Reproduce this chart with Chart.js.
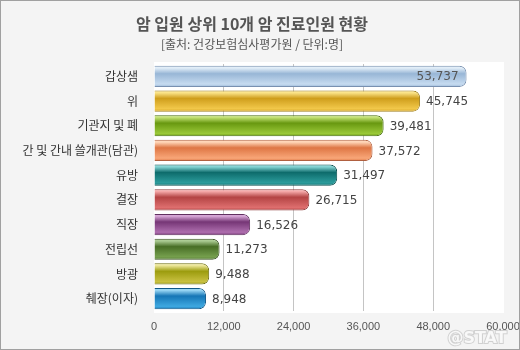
<!DOCTYPE html>
<html>
<head>
<meta charset="utf-8">
<script src="https://cdn.jsdelivr.net/npm/chart.js"></script>
<style>
  body { margin: 0; background: #fff; }
  #wrap { width: 518px; height: 348px; border: 1px solid #a0a0a0; background: #f4f4f4; }
</style>
</head>
<body>
<div id="wrap"><canvas id="cancerChart" width="518" height="348"></canvas></div>
<script>
// chart data
const categories = ['갑상샘', '위', '기관지 및 폐', '간 및 간내 쓸개관(담관)', '유방', '결장', '직장', '전립선', '방광', '췌장(이자)'];
const patients = [53737, 45745, 39481, 37572, 31497, 26715, 16526, 11273, 9488, 8948];
const axisMax = 60000;
const axisStep = 12000;

// glossy bar colours: highlight, dark band, lower body, outline
const barLight = ['#e2eef8', '#fbe48a', '#c4e276', '#ffd6b8', '#86d4d4', '#f4a8a8', '#d6a6d6', '#accc94', '#ece698', '#98d6f4'];
const barDark = ['#98b6d6', '#cf9e1c', '#689810', '#de7644', '#0e6c6c', '#b44444', '#763676', '#486e26', '#9c9c0e', '#1676b6'];
const barBody = ['#c6dbf0', '#f2c84a', '#9ac838', '#f8a678', '#2c9c9c', '#de6e6e', '#ae6eae', '#76a04e', '#c8c040', '#3ea8e0'];
const barEdge = ['#7890b0', '#a08020', '#4a7010', '#b06040', '#0a5050', '#904040', '#603060', '#385020', '#707010', '#105888'];

const fontKr = '"Noto Sans CJK KR", "Noto Sans", sans-serif';

function barGradient(c) {
    const chart = c.chart;
    const i = c.dataIndex;
    const yScale = chart.scales.y;
    if (!chart.chartArea || !yScale || i === undefined) return barBody[i] || '#ccc';
    const cy = yScale.getPixelForValue(i);
    const h = 11;
    const g = chart.ctx.createLinearGradient(0, cy - h, 0, cy + h);
    g.addColorStop(0, barLight[i]);
    g.addColorStop(0.12, barLight[i]);
    g.addColorStop(0.38, barDark[i]);
    g.addColorStop(0.85, barBody[i]);
    g.addColorStop(1, barDark[i]);
    return g;
}

// white plot background
const plotBackground = {
    id: 'plotBackground',
    beforeDraw(chart) {
        const { ctx, chartArea } = chart;
        ctx.save();
        ctx.fillStyle = '#ffffff';
        ctx.fillRect(chartArea.left, chartArea.top - 2, chartArea.right - chartArea.left + 1, chartArea.bottom - chartArea.top + 4);
        ctx.restore();
    }
};

// value labels at the end of each bar
const valueLabels = {
    id: 'valueLabels',
    afterDatasetsDraw(chart) {
        const ctx = chart.ctx;
        const meta = chart.getDatasetMeta(0);
        ctx.save();
        ctx.font = '12px "DejaVu Sans", sans-serif';
        ctx.textBaseline = 'middle';
        meta.data.forEach((bar, i) => {
            const text = patients[i].toLocaleString('en-US');
            if (i === 0) {
                ctx.textAlign = 'right';
                ctx.fillStyle = '#555';
                ctx.fillText(text, bar.x - 8, bar.y + 1);
            } else {
                ctx.textAlign = 'left';
                ctx.fillStyle = '#444';
                ctx.fillText(text, bar.x + 6, bar.y + 1);
            }
        });
        ctx.restore();
    }
};

// faint watermark in the corner
const watermark = {
    id: 'watermark',
    afterDraw(chart) {
        const ctx = chart.ctx;
        ctx.save();
        ctx.font = 'bold 16px "DejaVu Sans", sans-serif';
        ctx.textAlign = 'center';
        ctx.textBaseline = 'middle';
        ctx.lineWidth = 2;
        ctx.strokeStyle = 'rgba(200,200,200,0.8)';
        ctx.strokeText('@STAT', 476, 338);
        ctx.fillStyle = 'rgba(250,250,250,0.95)';
        ctx.fillText('@STAT', 476, 338);
        ctx.restore();
    }
};

new Chart(document.getElementById('cancerChart'), {
    type: 'bar',
    data: {
        labels: categories,
        datasets: [{
            label: '진료인원',
            data: patients,
            backgroundColor: barGradient,
            borderColor: barEdge,
            borderWidth: 1,
            borderSkipped: 'start',
            borderRadius: { topLeft: 0, bottomLeft: 0, topRight: 7, bottomRight: 7 },
            barPercentage: 0.86,
            categoryPercentage: 1
        }]
    },
    options: {
        indexAxis: 'y',
        responsive: false,
        animation: false,
        layout: { padding: { left: 0, right: 16, top: 0, bottom: 0 } },
        scales: {
            y: {
                grid: { display: false },
                border: { display: false },
                ticks: { color: '#333', font: { size: 12, family: fontKr }, padding: 8 },
                afterFit: (s) => { s.width = 153; s.paddingTop = 0; s.paddingBottom = 0; }
            },
            x: {
                min: 0,
                max: axisMax,
                grid: {
                    drawTicks: false,
                    color: (c) => (c.index === 0 || c.tick && c.tick.value === axisMax) ? 'rgba(0,0,0,0)' : '#c4c4c4'
                },
                border: { display: false },
                ticks: {
                    stepSize: axisStep,
                    color: '#555',
                    font: { size: 11, family: '"Liberation Sans", sans-serif' },
                    padding: 9,
                    callback: (v) => Number(v).toLocaleString('en-US')
                },
                afterFit: (s) => { s.height = 38; s.paddingLeft = 0; s.paddingRight = 0; }
            }
        },
        plugins: {
            legend: { display: false },
            tooltip: { enabled: false },
            title: {
                display: true,
                text: '암 입원 상위 10개 암 진료인원 현황',
                color: '#555',
                font: { size: 16, weight: 'bold', family: fontKr },
                padding: { top: 13, bottom: 3.6 }
            },
            subtitle: {
                display: true,
                text: '[출처: 건강보험심사평가원 / 단위:명]',
                color: '#555',
                font: { size: 12, family: fontKr },
                padding: { top: 0, bottom: 12.8 }
            }
        }
    },
    plugins: [plotBackground, valueLabels, watermark]
});
</script>
</body>
</html>
